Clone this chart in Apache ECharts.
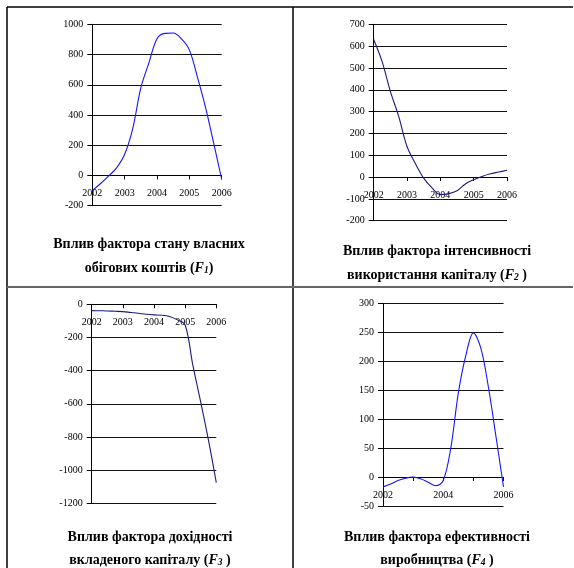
<!DOCTYPE html>
<html><head><meta charset="utf-8">
<script src="https://cdn.jsdelivr.net/npm/echarts@6/dist/echarts.min.js"></script>
<style>html,body{margin:0;padding:0;background:#fff}#c{width:574px;height:568px}</style>
</head><body><div id="c"></div>
<script>
// ---- data ----
var years = [2002, 2002.25, 2002.5, 2002.75, 2003, 2003.25, 2003.5, 2003.75, 2004, 2004.25, 2004.5, 2004.75, 2005, 2005.25, 2005.5, 2005.75, 2006];
var yearTicks = [2002, 2003, 2004, 2005, 2006];
var f1Values = [-100, -55, -5, 50, 140, 310, 580, 745, 905, 940, 942, 905, 831, 650, 450, 215, -25];
var f2Values = [630, 530, 393, 278, 140, 62, -5, -50, -80, -76, -63, -32, -12, 3, 15, 23, 31];
var f3Values = [-38, -39, -40, -42, -44, -49, -54, -60, -64, -66, -74, -94, -125, -370, -590, -820, -1075];
var f4Values = [-17, -12, -6, -2, 0, -3, -9, -15, -6, 50, 145, 210, 249, 222, 155, 70, -17];
var titles = [
  ['Вплив фактора стану власних', 'обігових коштів (', 'F', '1', ')'],
  ['Вплив фактора інтенсивності', 'використання капіталу (', 'F', '2', ' )'],
  ['Вплив фактора дохідності', 'вкладеного капіталу (', 'F', '3', ' )'],
  ['Вплив фактора ефективності', 'виробництва (', 'F', '4', ' )']
];

var FONT = 'Liberation Serif';
function pairs(vals){ return years.map(function(x,i){ return [x, vals[i]]; }); }

var grids = [
  {left: 92.3, top: 24.3, width: 129.4, height: 181.4},
  {left: 373.7, top: 24.3, width: 133.3, height: 196.4},
  {left: 91.7, top: 304.3, width: 124.6, height: 199},
  {left: 383, top: 303.3, width: 120.5, height: 202.7}
];
var yCfg = [
  {min: -200, max: 1000, interval: 200},
  {min: -200, max: 700, interval: 100},
  {min: -1200, max: 0, interval: 200},
  {min: -50, max: 300, interval: 50}
];
var series = [f1Values, f2Values, f3Values, f4Values];
var colors = ['#1414ff', '#1a1a80', '#1a1a80', '#1414ff'];

var xAxes = [], yAxes = [], ser = [];
for (var i = 0; i < 4; i++) {
  (function(i){
    // place the year axis on the zero line of the value axis
    var zeroOffset = -grids[i].height * (0 - yCfg[i].min) / (yCfg[i].max - yCfg[i].min);
    xAxes.push({
      gridIndex: i, type: 'value', position: 'bottom', offset: zeroOffset,
      min: yearTicks[0], max: yearTicks[yearTicks.length-1], interval: 1,
      axisLine: {onZero: false, lineStyle: {color: '#000', width: 1}},
      axisTick: {show: true, length: 4, lineStyle: {color: '#000'}},
      axisLabel: {margin: 13, fontFamily: FONT, fontSize: 10, color: '#000',
        formatter: function(v){ if (i === 3 && v % 2 !== 0) return ''; return String(v); }},
      splitLine: {show: false}
    });
    yAxes.push({
      gridIndex: i, type: 'value', min: yCfg[i].min, max: yCfg[i].max, interval: yCfg[i].interval,
      axisLine: {show: true, onZero: false, lineStyle: {color: '#000', width: 1}},
      axisTick: {show: true, length: 5, lineStyle: {color: '#000'}},
      axisLabel: {margin: 9, fontFamily: FONT, fontSize: 10, color: '#000',
        formatter: function(v){ return String(v); }},
      splitLine: {show: true, lineStyle: {color: '#111', width: 1.2}}
    });
    ser.push({
      type: 'line', xAxisIndex: i, yAxisIndex: i, data: pairs(series[i]),
      smooth: 0.35, showSymbol: false, symbol: 'none',
      lineStyle: {color: colors[i], width: 1.1}, z: 5, animation: false
    });
  })(i);
}

var rich = {
  b: {fontFamily: FONT, fontSize: 14, fontWeight: 'bold', color: '#000'},
  fi: {fontFamily: FONT, fontSize: 14, fontWeight: 'bold', fontStyle: 'italic', color: '#000'},
  sub: {fontFamily: FONT, fontSize: 9.5, fontWeight: 'bold', fontStyle: 'italic', color: '#000', padding: [6, 0, 0, 0]}
};
var titlePos = [[149, 244, 268], [437, 251, 275], [150, 537, 560], [437, 537, 560]];
var graphics = [
  {type: 'line', shape: {x1: 7, y1: 7, x2: 573, y2: 7}, style: {stroke: '#000', lineWidth: 1.5}},
  {type: 'line', shape: {x1: 7, y1: 7, x2: 7, y2: 568}, style: {stroke: '#000', lineWidth: 1.5}},
  {type: 'line', shape: {x1: 293, y1: 7, x2: 293, y2: 568}, style: {stroke: '#000', lineWidth: 1.5}},
  {type: 'line', shape: {x1: 7, y1: 287, x2: 573, y2: 287}, style: {stroke: '#666', lineWidth: 2}}
];
titles.forEach(function(t, k){
  var p = titlePos[k];
  graphics.push({type: 'text', x: p[0], y: p[1], style: {
    text: '{b|' + t[0] + '}', rich: rich, align: 'center', verticalAlign: 'middle'}});
  graphics.push({type: 'text', x: p[0], y: p[2], style: {
    text: '{b|' + t[1] + '}{fi|' + t[2] + '}{sub|' + t[3] + '}{b|' + t[4] + '}', rich: rich, align: 'center', verticalAlign: 'middle'}});
});

var chart = echarts.init(document.getElementById('c'), null, {renderer: 'canvas'});
chart.setOption({
  animation: false,
  grid: grids.map(function(g){ return Object.assign({containLabel: false}, g); }),
  xAxis: xAxes, yAxis: yAxes, series: ser, graphic: graphics
});
</script></body></html>
